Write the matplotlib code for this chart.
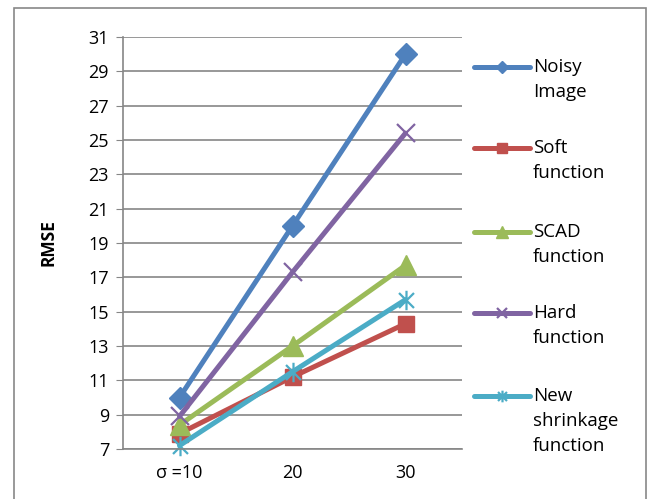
import matplotlib
matplotlib.use("Agg")
import matplotlib.pyplot as plt
from matplotlib.lines import Line2D
from matplotlib.patches import Rectangle
from matplotlib.path import Path

plt.rcParams['font.family'] = ['Open Sans', 'DejaVu Sans']

# data
categories = ['σ =10', '20', '30']
noisy = [10.0, 20.0, 30.0]
soft = [7.9, 11.2, 14.3]
scad = [8.4, 13.0, 17.7]
hard = [8.9, 17.3, 25.4]
new_shrink = [7.2, 11.5, 15.7]
series_names = ['Noisy\nImage', 'Soft\nfunction', 'SCAD\nfunction',
                'Hard\nfunction', 'New\nshrinkage\nfunction']
y_ticks = list(range(7, 32, 2))

# asterisk marker like excel (x plus vertical bar)
star_path = Path([(-1, -1), (1, 1), (-1, 1), (1, -1), (0, -1.3), (0, 1.3)],
                 [Path.MOVETO, Path.LINETO, Path.MOVETO, Path.LINETO,
                  Path.MOVETO, Path.LINETO])

styles = [
    dict(color='#4F81BD', marker='D', ms=11),
    dict(color='#C0504D', marker='s', ms=12),
    dict(color='#9BBB59', marker='^', ms=14),
    dict(color='#8064A2', marker='x', ms=13, mew=1.6),
    dict(color='#4BACC6', marker=star_path, ms=14, mew=1.6),
]
values = [noisy, soft, scad, hard, new_shrink]

fig = plt.figure(figsize=(6.54, 4.99), dpi=100)
W, H = 654, 499
ax = fig.add_axes([123 / W, 1 - 449 / H, (462 - 123) / W, (449 - 37) / H])

x = list(range(len(categories)))
for vals, st in zip(values, styles):
    ax.plot(x, vals, lw=3.6, solid_capstyle='round', clip_on=False, **st)

ax.set_xlim(-0.5, len(categories) - 0.5)
ax.set_ylim(7, 31)
ax.set_yticks(y_ticks)
ax.set_xticks(x)
ax.set_xticklabels(categories)
ax.yaxis.grid(True, color='#868686', lw=1.2)
ax.set_axisbelow(True)
for s in ['top', 'right']:
    ax.spines[s].set_visible(False)
for s in ['left', 'bottom']:
    ax.spines[s].set_color('#868686')
    ax.spines[s].set_linewidth(1.2)
ax.tick_params(axis='y', length=5, color='#868686', labelsize=13, pad=5)
ax.tick_params(axis='x', length=0, labelsize=13, pad=11)
ax.set_ylabel('RMSE', fontsize=12.5, fontweight='bold', labelpad=22)

# legend drawn by hand so the sample sits on the first text line
legend_y = [67, 148, 232, 313, 396]
for name, st, ly in zip(series_names, styles, legend_y):
    yy = 1 - ly / H
    lst = dict(st)
    lst['ms'] = st['ms'] * 0.6
    fig.add_artist(Line2D([474 / W, 530 / W], [yy, yy], lw=3.6,
                          solid_capstyle='round', color=st['color']))
    fig.add_artist(Line2D([502 / W], [yy], lw=0, **lst))
    fig.text(533 / W, yy + 9 / H, name, fontsize=13.5, va='top', ha='left',
             linespacing=1.5)

# outer frame
fig.add_artist(Rectangle((14 / W, -0.05), (646 - 14) / W, 1 - 8 / H + 0.05,
                         fill=False, edgecolor='#888888', lw=1.2,
                         transform=fig.transFigure))

fig.savefig('out.png', dpi=100)
